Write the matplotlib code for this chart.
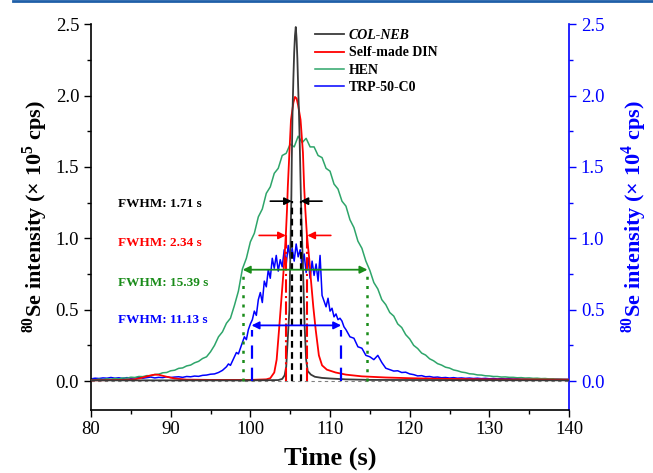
import numpy as np
import matplotlib
matplotlib.use("Agg")
import matplotlib.pyplot as plt
from matplotlib.lines import Line2D
from matplotlib.ticker import MultipleLocator

plt.rcParams['font.family'] = ['Liberation Serif', 'DejaVu Serif']
plt.rcParams['mathtext.fontset'] = 'custom'
plt.rcParams['mathtext.rm'] = 'Liberation Serif'
plt.rcParams['mathtext.bf'] = 'Liberation Serif:bold'

# COL-NEB (x 10^5 cps)
t_col = [80, 100, 103.5, 104.0, 104.3, 104.5, 104.7, 104.9, 105.05, 105.15, 105.2, 105.3,
         105.4, 105.5, 105.6, 105.7, 105.8, 105.9, 106.0, 106.1, 106.2, 106.3, 106.4,
         106.6, 106.8, 107.0, 107.2, 107.6, 108.1, 109, 110, 112, 115, 140]
y_col = [0.005, 0.005, 0.007, 0.015, 0.04, 0.1, 0.3, 0.5, 1.0, 1.30, 1.55, 1.90,
         2.12, 2.30, 2.42, 2.48, 2.40, 2.26, 2.06, 1.88, 1.66, 1.40, 1.15,
         0.80, 0.40, 0.15, 0.07, 0.045, 0.03, 0.022, 0.018, 0.012, 0.008, 0.005]

# Self-made DIN (x 10^5 cps)
t_din = [80, 84, 85.5, 86.5, 87.5, 88, 88.5, 89.5, 90.5, 92, 95, 100, 102, 102.5, 103,
         103.3, 103.6, 104.0, 104.25, 104.45, 104.6, 104.7, 104.9, 105.1, 105.4, 105.6,
         105.8, 106.0, 106.3, 106.6, 106.75, 106.9, 107.1, 107.4, 107.6, 107.9, 108.2,
         108.6, 109.0, 109.3, 109.6, 110.7, 112, 114, 117, 120, 125, 130, 140]
y_din = [0.005, 0.008, 0.012, 0.025, 0.04, 0.045, 0.044, 0.03, 0.018, 0.01, 0.008, 0.008,
         0.012, 0.02, 0.06, 0.15, 0.36, 0.65, 0.83, 1.02, 1.20, 1.36, 1.60, 1.83, 1.95,
         1.99, 1.98, 1.93, 1.83, 1.60, 1.36, 1.20, 1.02, 0.85, 0.71, 0.52, 0.36, 0.18,
         0.11, 0.095, 0.08, 0.06, 0.045, 0.033, 0.025, 0.02, 0.015, 0.012, 0.01]

# HEN (x 10^5 cps), every 0.5 s from 80 s
y_hen = [0.012, 0.008, 0.014, 0.010, 0.016, 0.013, 0.018, 0.015, 0.022, 0.020,
         0.027, 0.025, 0.032, 0.031, 0.038, 0.037, 0.046, 0.048, 0.058, 0.060,
         0.072, 0.076, 0.089, 0.092, 0.106, 0.112, 0.128, 0.138, 0.158, 0.170,
         0.205, 0.250, 0.310, 0.345, 0.405, 0.440, 0.530, 0.630, 0.785, 0.860,
         0.975, 1.035, 1.150, 1.205, 1.315, 1.360, 1.455, 1.490, 1.580, 1.595,
         1.660, 1.640, 1.715, 1.670, 1.700, 1.640, 1.640, 1.580, 1.565, 1.490,
         1.470, 1.380, 1.345, 1.260, 1.225, 1.130, 1.075, 0.980, 0.930, 0.840,
         0.775, 0.690, 0.645, 0.570, 0.535, 0.480, 0.455, 0.400, 0.375, 0.325,
         0.295, 0.250, 0.228, 0.196, 0.182, 0.156, 0.142, 0.122, 0.112, 0.097,
         0.091, 0.078, 0.072, 0.063, 0.059, 0.051, 0.049, 0.043, 0.042, 0.037,
         0.036, 0.032, 0.032, 0.028, 0.029, 0.026, 0.026, 0.023, 0.024, 0.021,
         0.022, 0.019, 0.020, 0.017, 0.018, 0.015, 0.016, 0.013, 0.014, 0.011,
         0.012]
t_hen = 80 + 0.5 * np.arange(len(y_hen))

# TRP-50-C0 (x 10^4 cps): 80-96.5 s every 0.5 s, 97-111.75 s every 0.25 s, 112-140 s every 0.5 s
y_trp1 = [0.015, 0.02, 0.018, 0.022, 0.02, 0.025, 0.02, 0.023, 0.018, 0.024,
          0.02, 0.022, 0.026, 0.02, 0.024, 0.028, 0.022, 0.026, 0.024, 0.03,
          0.025, 0.028, 0.03, 0.026, 0.032, 0.03, 0.035, 0.033, 0.04, 0.042,
          0.048, 0.05, 0.06, 0.075]
y_trp2 = [0.10, 0.12, 0.11, 0.14,
          0.17, 0.20, 0.19, 0.23,
          0.27, 0.31, 0.29, 0.36,
          0.40, 0.43, 0.49, 0.46,
          0.57, 0.62, 0.55, 0.70,
          0.66, 0.78, 0.72, 0.86,
          0.79, 0.88, 0.77, 0.85,
          0.80, 0.92, 0.82, 0.95,
          0.86, 0.93, 0.84, 0.96,
          0.87, 0.92, 0.80, 0.89,
          0.76, 0.86, 0.72, 0.84,
          0.74, 0.82, 0.70, 0.88,
          0.60, 0.56, 0.52, 0.58,
          0.49, 0.51, 0.45, 0.47,
          0.43, 0.44, 0.42, 0.38]
y_trp3 = [0.36, 0.31, 0.30, 0.24, 0.23, 0.18, 0.17, 0.15, 0.18, 0.13,
          0.09, 0.08, 0.07, 0.072, 0.06, 0.062, 0.05, 0.045, 0.036, 0.038,
          0.03, 0.032, 0.026, 0.028, 0.023, 0.025, 0.021, 0.024, 0.02, 0.022,
          0.019, 0.021, 0.018, 0.02, 0.017, 0.019, 0.016, 0.018, 0.015, 0.017,
          0.015, 0.016, 0.014, 0.016, 0.013, 0.015, 0.013, 0.014, 0.012, 0.014,
          0.012, 0.013, 0.011, 0.013, 0.011, 0.012, 0.011]
t_trp = np.concatenate([80 + 0.5 * np.arange(len(y_trp1)),
                        97 + 0.25 * np.arange(len(y_trp2)),
                        112 + 0.5 * np.arange(len(y_trp3))])
y_trp = np.concatenate([y_trp1, y_trp2, y_trp3])

# FWHM markers: (left x, right x, y level)
fwhm_col = (105.2, 106.3, 1.26)
fwhm_din = (104.45, 107.15, 1.02)
fwhm_hen = (99.04, 114.7, 0.78)
fwhm_trp = (100.15, 111.4, 0.39)
fwhm_text = ["FWHM: 1.71 s", "FWHM: 2.34 s", "FWHM: 15.39 s", "FWHM: 11.13 s"]
text_y = [1.24, 0.97, 0.69, 0.43]

c_col = '#3a3a3a'
c_din = '#ff0000'
c_hen = '#2ea56a'
c_trp = '#0000ff'
c_hen_ann = '#1a8c1a'

fig = plt.figure(figsize=(6.53, 4.73), dpi=100)
ax = fig.add_axes([0.1394, 0.134, 0.732, 0.815])
ax2 = ax.twinx()
ax.set_zorder(ax2.get_zorder() + 1)
ax.patch.set_visible(False)

ax.axhline(0, color='gray', ls='--', lw=0.8, dashes=(3, 3), zorder=1)
l_hen, = ax.plot(t_hen, y_hen, color=c_hen, lw=1.1, zorder=2, label='HEN')
l_din, = ax.plot(t_din, y_din, color=c_din, lw=1.3, zorder=3, label='Self-made DIN')
l_col, = ax.plot(t_col, y_col, color=c_col, lw=1.3, zorder=4, label='COL-NEB')
l_trp, = ax2.plot(t_trp, y_trp, color=c_trp, lw=1.1, label='TRP-50-C0')

# FWHM guide lines
for xv in fwhm_col[:2]:
    ax.plot([xv, xv], [0, fwhm_col[2]], color='k', ls=(0, (3, 2)), lw=1.6, zorder=5)
for xv in fwhm_din[:2]:
    ax.plot([xv, xv], [0, fwhm_din[2]], color=c_din, ls='-.', lw=1.5, zorder=5)
for xv in fwhm_hen[:2]:
    ax.plot([xv, xv], [0, fwhm_hen[2] - 0.03], color=c_hen_ann, ls=(0, (1.2, 2.5)), lw=1.8, zorder=5)
for xv in fwhm_trp[:2]:
    ax.plot([xv, xv], [0, fwhm_trp[2] - 0.03], color=c_trp, ls=(0, (6, 4)), lw=1.6, zorder=5)

def inward(x0, x1, y, c):
    ax.annotate('', xy=(x1, y), xytext=(x0, y),
                arrowprops=dict(arrowstyle='-|>', color=c, lw=1.2, mutation_scale=11,
                                shrinkA=0, shrinkB=0), zorder=6)

inward(102.5, fwhm_col[0], fwhm_col[2], 'k')
inward(109.0, fwhm_col[1], fwhm_col[2], 'k')
inward(101.1, fwhm_din[0], fwhm_din[2], c_din)
inward(110.1, fwhm_din[1], fwhm_din[2], c_din)
for (x0, x1, yl), c in [(fwhm_hen, c_hen_ann), (fwhm_trp, c_trp)]:
    ax.annotate('', xy=(x1, yl), xytext=(x0, yl),
                arrowprops=dict(arrowstyle='<|-|>', color=c, lw=1.3, mutation_scale=11,
                                shrinkA=0, shrinkB=0), zorder=6)

for s, yv, c in zip(fwhm_text, text_y, ['k', c_din, c_hen_ann, c_trp]):
    ax.text(83.4, yv, s, color=c, fontsize=9.5, fontweight='bold', va='center', ha='left')

ax.set_xlim(80, 140)
ax.set_ylim(-0.2, 2.5)
ax2.set_ylim(-0.2, 2.5)
ax.set_xticks([80, 90, 100, 110, 120, 130, 140])
ax.xaxis.set_minor_locator(MultipleLocator(5))
ax.set_yticks([0, 0.5, 1.0, 1.5, 2.0, 2.5])
ax.set_yticks([0.25, 0.75, 1.25, 1.75, 2.25], minor=True)
ax2.set_yticks([0, 0.5, 1.0, 1.5, 2.0, 2.5])
ax2.set_yticks([0.25, 0.75, 1.25, 1.75, 2.25], minor=True)
ax.yaxis.set_major_formatter(matplotlib.ticker.FormatStrFormatter('%.1f'))
ax2.yaxis.set_major_formatter(matplotlib.ticker.FormatStrFormatter('%.1f'))

ax.tick_params(which='major', direction='out', length=5, width=1, labelsize=13.5)
ax.tick_params(which='minor', direction='out', length=3, width=1)
ax2.tick_params(which='major', direction='out', length=5, width=1, labelsize=13.5,
                colors=c_trp)
ax2.tick_params(which='minor', direction='out', length=3, width=1, colors=c_trp)

for a in (ax, ax2):
    a.spines['top'].set_visible(False)
ax.spines['right'].set_visible(False)
ax2.spines['left'].set_visible(False)
ax2.spines['bottom'].set_visible(False)
ax2.spines['right'].set_color(c_trp)
for sp in ('left', 'bottom'):
    ax.spines[sp].set_linewidth(1.2)
ax2.spines['right'].set_linewidth(1.2)

ax.set_xlabel('Time (s)', fontsize=19, fontweight='bold', labelpad=6)
ax.set_ylabel(r'$^{\mathbf{80}}$Se intensity (× 10$^{\mathbf{5}}$ cps)', fontsize=16,
              fontweight='bold', labelpad=4)
ax2.set_ylabel(r'$^{\mathbf{80}}$Se intensity (× 10$^{\mathbf{4}}$ cps)', fontsize=16,
               fontweight='bold', color=c_trp, labelpad=11)

leg = ax.legend([l_col, l_din, l_hen, l_trp],
                ['COL-NEB', 'Self-made DIN', 'HEN', 'TRP-50-C0'],
                loc='upper left', bbox_to_anchor=(0.448, 1.012), frameon=False,
                prop={'weight': 'bold', 'size': 10}, handlelength=2.1,
                handletextpad=0.35, labelspacing=0.3, borderpad=0.2)
leg.get_texts()[0].set_fontstyle('italic')

fig.add_artist(Line2D([0.02, 1.0], [0.998, 0.998], color='#1f5fa8', lw=2))

fig.savefig('out.png', dpi=100)
